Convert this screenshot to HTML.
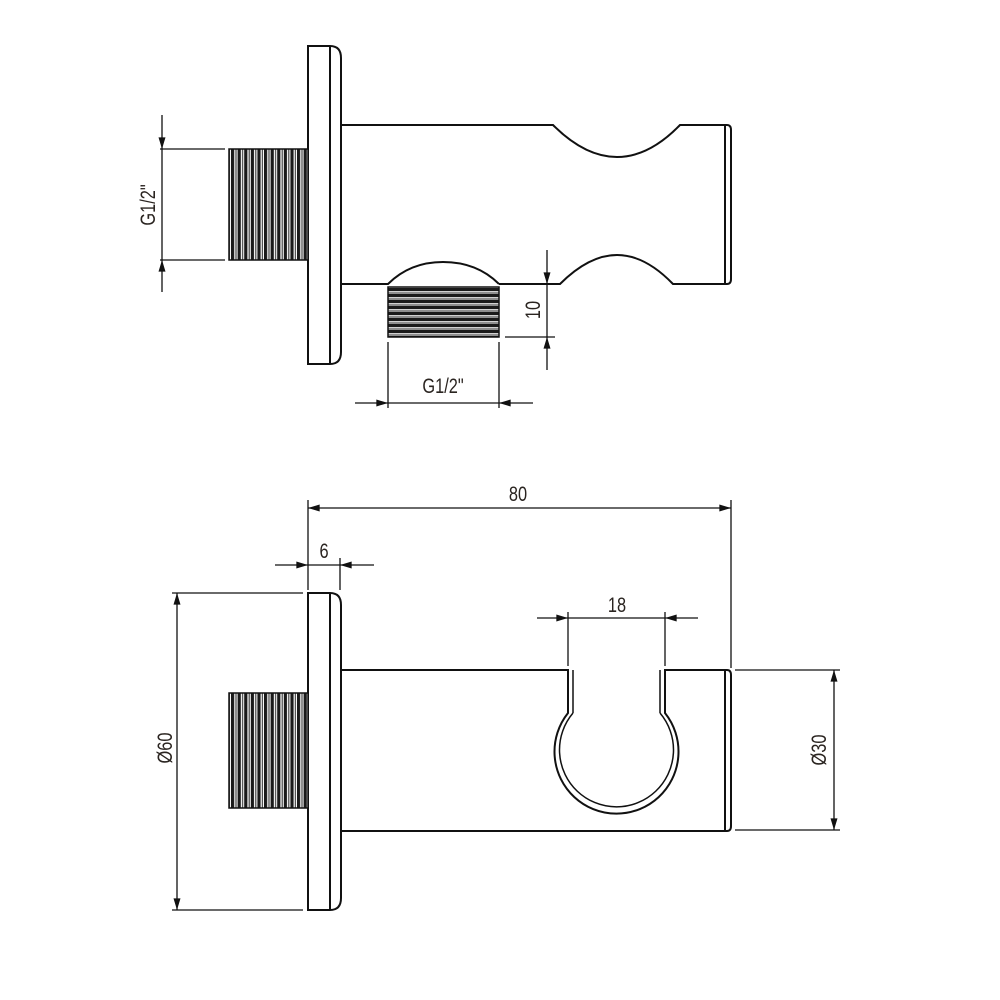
<!DOCTYPE html>
<html><head><meta charset="utf-8"><style>
html,body{margin:0;padding:0;background:#fff}
svg{display:block}
text{font-family:"Liberation Sans",sans-serif;font-size:21px;fill:#2a2420}
</style></head><body>
<svg width="1000" height="1000" viewBox="0 0 1000 1000" xmlns="http://www.w3.org/2000/svg">
<defs>
<marker id="a" viewBox="0 0 10 6" refX="10" refY="3" markerWidth="14" markerHeight="7" markerUnits="userSpaceOnUse" orient="auto"><path d="M0,0L10,3L0,6z" fill="#111"/></marker>
<pattern id="tv" width="6.6" height="10" patternUnits="userSpaceOnUse"><rect width="6.6" height="10" fill="#fff"/><rect x="0" width="3.2" height="10" fill="#1a1a1a"/><rect x="4.4" width="1.2" height="10" fill="#444"/></pattern>
<pattern id="th" width="10" height="6" patternUnits="userSpaceOnUse"><rect width="10" height="6" fill="#fff"/><rect y="0" width="10" height="3.2" fill="#1a1a1a"/><rect y="4.4" width="10" height="1.2" fill="#444"/></pattern>
</defs>
<g fill="none" stroke="#111" stroke-width="2">
<path d="M308,46 H330 Q341,46 341,58 V352 Q341,364 330,364 H308 Z"/>
<line x1="330" y1="46" x2="330" y2="364"/>
<path d="M341,125 H553 Q585,157 617,157 Q649,157 680,125 H727 Q731,125 731,130 V279 Q731,284 727,284 H673 Q645,255 617,255 Q589,255 560,284 H499"/>
<line x1="725" y1="126" x2="725" y2="283"/>
<path d="M341,284 H388 Q410,262 443,262 Q477,262 499,284"/>
<rect x="229" y="149" width="79" height="111" fill="url(#tv)" stroke-width="1.5"/>
<rect x="388" y="287" width="111" height="50" fill="url(#th)" stroke-width="1.5"/>
</g>
<g stroke="#111" stroke-width="1.3" fill="none">
<line x1="160" y1="149" x2="225" y2="149"/><line x1="160" y1="260" x2="225" y2="260"/>
<line x1="162" y1="115" x2="162" y2="149" marker-end="url(#a)"/><line x1="162" y1="292" x2="162" y2="260" marker-end="url(#a)"/><line x1="162" y1="149" x2="162" y2="260"/>
<line x1="505" y1="337" x2="555" y2="337"/>
<line x1="547" y1="250" x2="547" y2="284" marker-end="url(#a)"/><line x1="547" y1="370" x2="547" y2="337" marker-end="url(#a)"/><line x1="547" y1="284" x2="547" y2="337"/>
<line x1="388" y1="342" x2="388" y2="408"/><line x1="499" y1="342" x2="499" y2="408"/>
<line x1="355" y1="403" x2="388" y2="403" marker-end="url(#a)"/><line x1="533" y1="403" x2="499" y2="403" marker-end="url(#a)"/><line x1="388" y1="403" x2="499" y2="403"/>
</g>
<text transform="translate(155,205) rotate(-90) scale(0.78,1)" text-anchor="middle">G1/2"</text>
<text transform="translate(540,310) rotate(-90) scale(0.78,1)" text-anchor="middle">10</text>
<text transform="translate(443,393) scale(0.78,1)" text-anchor="middle">G1/2"</text>
<g fill="none" stroke="#111" stroke-width="2">
<path d="M308,593 H330 Q341,593 341,605 V898 Q341,910 330,910 H308 Z"/>
<line x1="330" y1="593" x2="330" y2="910"/>
<path d="M341,670 H568 V713 A62,62 0 1 0 665,713 V670 H727 Q731,670 731,675 V826 Q731,831 727,831 H341"/>
<line x1="725" y1="671" x2="725" y2="830"/>
<path d="M573,713 A57,57 0 1 0 660,713" stroke-width="1.5"/>
<line x1="573" y1="670" x2="573" y2="713" stroke-width="1.5"/>
<line x1="660" y1="670" x2="660" y2="713" stroke-width="1.5"/>
<rect x="229" y="693" width="79" height="115" fill="url(#tv)" stroke-width="1.5"/>
</g>
<g stroke="#111" stroke-width="1.3" fill="none">
<line x1="308" y1="500" x2="308" y2="590"/><line x1="731" y1="500" x2="731" y2="668"/>
<line x1="330" y1="508" x2="308" y2="508" marker-end="url(#a)"/><line x1="700" y1="508" x2="731" y2="508" marker-end="url(#a)"/><line x1="330" y1="508" x2="700" y2="508"/>
<line x1="340" y1="558" x2="340" y2="590"/>
<line x1="275" y1="565" x2="308" y2="565" marker-end="url(#a)"/><line x1="374" y1="565" x2="340" y2="565" marker-end="url(#a)"/><line x1="308" y1="565" x2="340" y2="565"/>
<line x1="172" y1="593" x2="303" y2="593"/><line x1="172" y1="910" x2="303" y2="910"/>
<line x1="177" y1="640" x2="177" y2="593" marker-end="url(#a)"/><line x1="177" y1="860" x2="177" y2="910" marker-end="url(#a)"/><line x1="177" y1="640" x2="177" y2="860"/>
<line x1="568" y1="612" x2="568" y2="666"/><line x1="665" y1="612" x2="665" y2="666"/>
<line x1="537" y1="618" x2="568" y2="618" marker-end="url(#a)"/><line x1="698" y1="618" x2="665" y2="618" marker-end="url(#a)"/><line x1="568" y1="618" x2="665" y2="618"/>
<line x1="735" y1="670" x2="840" y2="670"/><line x1="735" y1="830" x2="840" y2="830"/>
<line x1="834" y1="710" x2="834" y2="670" marker-end="url(#a)"/><line x1="834" y1="790" x2="834" y2="830" marker-end="url(#a)"/><line x1="834" y1="710" x2="834" y2="790"/>
</g>
<text transform="translate(518,501) scale(0.78,1)" text-anchor="middle">80</text>
<text transform="translate(324,558) scale(0.78,1)" text-anchor="middle">6</text>
<text transform="translate(617,612) scale(0.78,1)" text-anchor="middle">18</text>
<text transform="translate(172,748) rotate(-90) scale(0.78,1)" text-anchor="middle">Ø60</text>
<text transform="translate(826,750) rotate(-90) scale(0.78,1)" text-anchor="middle">Ø30</text>
</svg>
</body></html>
